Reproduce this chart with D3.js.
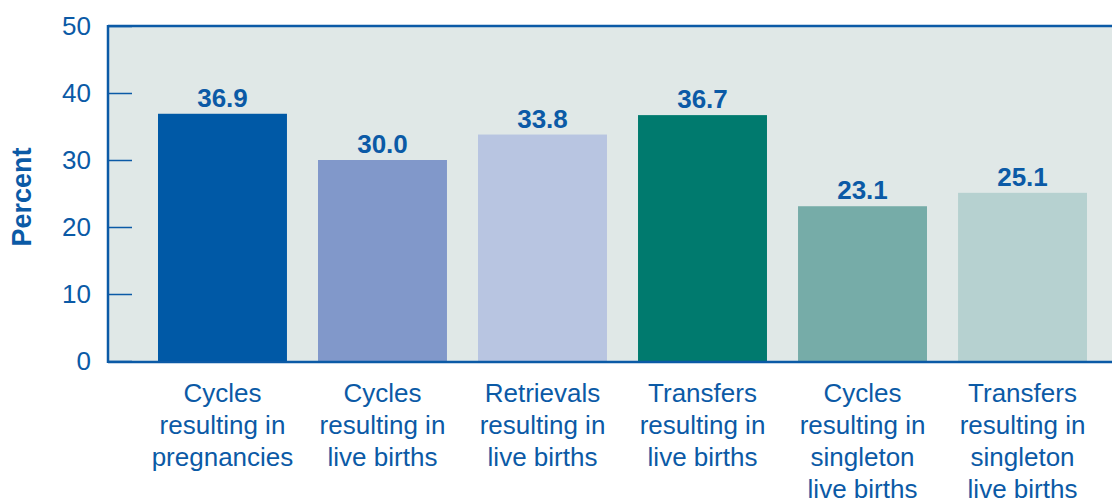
<!DOCTYPE html>
<html>
<head>
<meta charset="utf-8">
<script src="https://cdn.jsdelivr.net/npm/d3@7"></script>
<style>
  body { margin: 0; background: #fff; }
  text { font-family: "Liberation Sans", Arial, sans-serif; }
</style>
</head>
<body>
<svg id="chart" width="1112" height="504"></svg>
<script>
// chart data
var categories = [
  ["Cycles", "resulting in", "pregnancies"],
  ["Cycles", "resulting in", "live births"],
  ["Retrievals", "resulting in", "live births"],
  ["Transfers", "resulting in", "live births"],
  ["Cycles", "resulting in", "singleton", "live births"],
  ["Transfers", "resulting in", "singleton", "live births"]
];
var values = [36.9, 30.0, 33.8, 36.7, 23.1, 25.1];
var barColors = ["#0059a6", "#8198ca", "#b8c5e1", "#007a6e", "#76aca8", "#b6d1d0"];
var yTicks = [0, 10, 20, 30, 40, 50];

var ink = "#0b5aa6";
var svg = d3.select("#chart");

// plot box (window.top is reserved, so no bare "top")
var pLeft = 108, pRight = 1137, pTop = 26, pBottom = 361;

var x = d3.scaleBand()
  .domain(d3.range(values.length))
  .range([pLeft, pRight])
  .paddingInner(0.194)
  .paddingOuter(0.3125);

var y = d3.scaleLinear().domain([0, 50]).range([pBottom, pTop]);

// plot background
svg.append("rect")
  .attr("x", pLeft).attr("y", pTop)
  .attr("width", 1112 - pLeft).attr("height", pBottom - pTop)
  .attr("fill", "#e0e8e7");

// bars
svg.selectAll("rect.bar")
  .data(values)
  .enter().append("rect")
  .attr("class", "bar")
  .attr("x", function(d, i) { return x(i); })
  .attr("y", function(d) { return y(d); })
  .attr("width", x.bandwidth())
  .attr("height", function(d) { return y(0) - y(d); })
  .attr("fill", function(d, i) { return barColors[i]; });

// value labels
svg.selectAll("text.val")
  .data(values)
  .enter().append("text")
  .attr("class", "val")
  .attr("x", function(d, i) { return x(i) + x.bandwidth() / 2; })
  .attr("y", function(d) { return y(d) - 7; })
  .attr("text-anchor", "middle")
  .attr("font-size", 26)
  .attr("font-weight", "bold")
  .attr("fill", ink)
  .text(function(d) { return d.toFixed(1); });

// y axis: inward ticks
var yAxis = d3.axisRight(y).tickValues(yTicks).tickSize(24).tickFormat("");
var ga = svg.append("g").attr("transform", "translate(" + pLeft + ",0)").call(yAxis);
ga.select(".domain").remove();
ga.selectAll(".tick line").attr("stroke", ink).attr("stroke-width", 1.5);

svg.selectAll("text.ytick")
  .data(yTicks)
  .enter().append("text")
  .attr("class", "ytick")
  .attr("x", 91)
  .attr("y", function(d) { return y(d); })
  .attr("dy", "0.36em")
  .attr("text-anchor", "end")
  .attr("font-size", 26)
  .attr("fill", ink)
  .text(function(d) { return d; });

// frame lines
svg.append("line").attr("x1", pLeft).attr("x2", pLeft).attr("y1", pTop - 1).attr("y2", pBottom + 2)
  .attr("stroke", ink).attr("stroke-width", 2.5);
svg.append("line").attr("x1", pLeft).attr("x2", 1112).attr("y1", pTop).attr("y2", pTop)
  .attr("stroke", ink).attr("stroke-width", 2.5);
svg.append("line").attr("x1", pLeft).attr("x2", 1112).attr("y1", pBottom + 1).attr("y2", pBottom + 1)
  .attr("stroke", ink).attr("stroke-width", 2.5);

// category labels
var cat = svg.selectAll("text.cat")
  .data(categories)
  .enter().append("text")
  .attr("class", "cat")
  .attr("text-anchor", "middle")
  .attr("font-size", 26)
  .attr("fill", ink);
cat.each(function(lines, i) {
  var t = d3.select(this);
  lines.forEach(function(line, j) {
    t.append("tspan")
      .attr("x", x(i) + x.bandwidth() / 2)
      .attr("y", 402 + j * 32)
      .text(line);
  });
});

// y axis title
svg.append("text")
  .attr("transform", "translate(31,197) rotate(-90)")
  .attr("text-anchor", "middle")
  .attr("font-size", 27)
  .attr("font-weight", "bold")
  .attr("fill", ink)
  .text("Percent");
</script>
</body>
</html>
